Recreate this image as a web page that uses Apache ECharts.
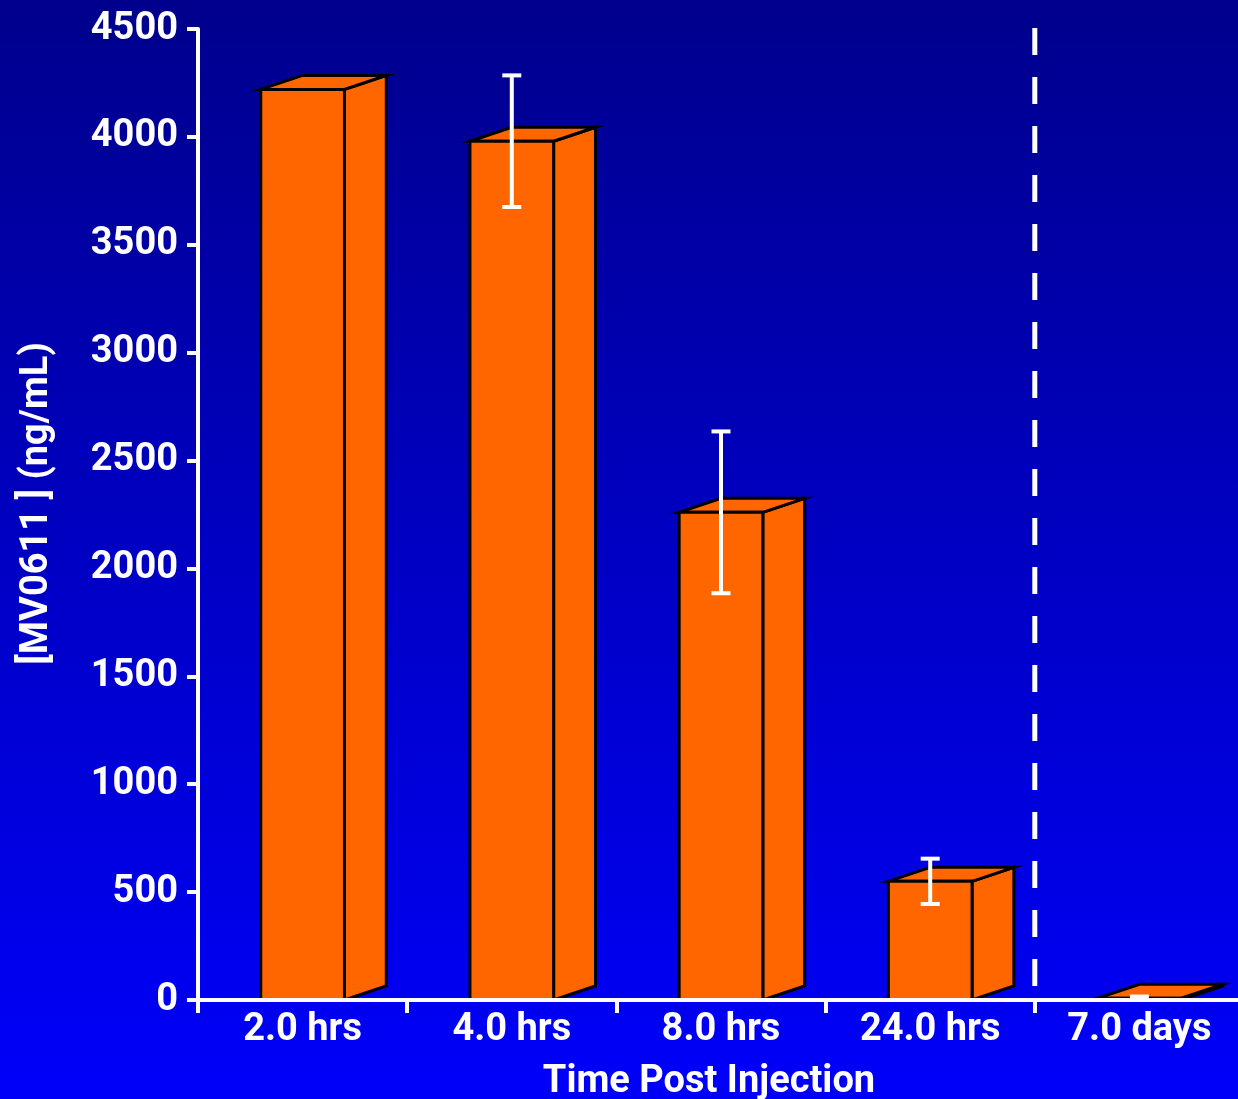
<!DOCTYPE html>
<html>
<head>
<meta charset="utf-8">
<title>MV0611 concentration over time</title>
<script src="https://cdn.jsdelivr.net/npm/echarts@6/dist/echarts.min.js"></script>
<style>
  html, body { margin: 0; padding: 0; background: #0000c0; overflow: hidden; }
  #chart { width: 1238px; height: 1099px; }
</style>
</head>
<body>
<div id="chart"></div>
<script>
// Sampling times after injection
const categories = ['2.0 hrs', '4.0 hrs', '8.0 hrs', '24.0 hrs', '7.0 days'];
// Mean plasma concentration (ng/mL)
const meanConc = [4220, 3980, 2260, 550, 8];
// Error bar half-width (ng/mL); null = no error bar
const errConc = [null, 305, 375, 105, 8];
// Y axis ticks
const yMin = 0, yMax = 4500, yStep = 500;
// Dashed separator is drawn before this category
const dividerBefore = '7.0 days';

const FONT = 'Roboto';
const ORANGE = '#ff6600';

const chart = echarts.init(document.getElementById('chart'), null, { renderer: 'canvas' });

// 3D box: front face, right side face and top face
function renderBox(params, api) {
  const idx = api.value(0);
  const val = api.value(1);
  const base = api.coord([idx, 0]);
  const top = api.coord([idx, val]);
  const band = api.size([1, 0])[0];
  const w = band * 0.40;
  const dx = band * 0.20;
  const dy = 14;
  const x0 = base[0] - w / 2, x1 = base[0] + w / 2;
  const yb = base[1], yt = top[1];
  const style = { fill: ORANGE, stroke: '#000', lineWidth: 3, lineJoin: 'miter' };
  return {
    type: 'group',
    children: [
      { type: 'polygon', shape: { points: [[x1, yb], [x1, yt], [x1 + dx, yt - dy], [x1 + dx, yb - dy]] }, style: style },
      { type: 'polygon', shape: { points: [[x0, yt], [x0 + dx, yt - dy], [x1 + dx, yt - dy], [x1, yt]] }, style: style },
      { type: 'polygon', shape: { points: [[x0, yb], [x0, yt], [x1, yt], [x1, yb]] }, style: style }
    ]
  };
}

// Error bar with caps, centred on the front face
function renderError(params, api) {
  const idx = api.value(0);
  const lo = api.coord([idx, api.value(1)]);
  const hi = api.coord([idx, api.value(2)]);
  const cap = 19;
  const st = { stroke: '#ffffff', lineWidth: 4 };
  return {
    type: 'group',
    children: [
      { type: 'line', shape: { x1: lo[0], y1: lo[1], x2: hi[0], y2: hi[1] }, style: st },
      { type: 'line', shape: { x1: hi[0] - cap / 2, y1: hi[1], x2: hi[0] + cap / 2, y2: hi[1] }, style: st },
      { type: 'line', shape: { x1: lo[0] - cap / 2, y1: lo[1], x2: lo[0] + cap / 2, y2: lo[1] }, style: st }
    ]
  };
}

// Vertical dashed separator on the left edge of a category
function renderDivider(params, api) {
  const idx = api.value(0);
  const c = api.coord([idx, yMax]);
  const b = api.coord([idx, yMin]);
  const band = api.size([1, 0])[0];
  const x = c[0] - band / 2;
  return {
    type: 'line',
    shape: { x1: x, y1: c[1] - 1, x2: x, y2: b[1] },
    style: { stroke: '#ffffff', lineWidth: 5, lineDash: [27, 22] }
  };
}

const boxData = categories.map((c, i) => [i, meanConc[i]]);
const errData = [];
categories.forEach((c, i) => {
  if (errConc[i] != null) errData.push([i, meanConc[i] - errConc[i], meanConc[i] + errConc[i]]);
});
const dividerData = [[categories.indexOf(dividerBefore)]];

const option = {
  animation: false,
  backgroundColor: {
    type: 'linear', x: 0, y: 0, x2: 0, y2: 1,
    colorStops: [
      { offset: 0, color: '#00008c' },
      { offset: 1, color: '#0000fa' }
    ]
  },
  grid: { left: 198, right: -6, top: 29, bottom: 99, containLabel: false, outerBoundsMode: 'none' },
  xAxis: {
    type: 'category',
    data: categories,
    boundaryGap: true,
    z: 5,
    name: 'Time Post Injection',
    nameLocation: 'middle',
    nameGap: 63,
    nameTextStyle: { color: '#ffffff', fontFamily: FONT, fontWeight: 'bold', fontSize: 38, padding: [0, 24, 0, 0] },
    axisLine: { lineStyle: { color: '#ffffff', width: 4 } },
    axisTick: { show: true, length: 13, lineStyle: { color: '#ffffff', width: 4 } },
    axisLabel: { color: '#ffffff', fontFamily: FONT, fontWeight: 'bold', fontSize: 38, margin: 11 },
    splitLine: { show: false }
  },
  yAxis: {
    type: 'value',
    min: yMin, max: yMax, interval: yStep,
    z: 5,
    name: '[MV0611 ] (ng/mL)',
    nameLocation: 'middle',
    nameGap: 142,
    nameRotate: 90,
    nameTextStyle: { color: '#ffffff', fontFamily: FONT, fontWeight: 'bold', fontSize: 38, padding: [0, 0, 0, 22] },
    axisLine: { show: true, lineStyle: { color: '#ffffff', width: 4 } },
    axisTick: { show: true, length: 11, lineStyle: { color: '#ffffff', width: 4 } },
    axisLabel: { color: '#ffffff', fontFamily: FONT, fontWeight: 'bold', fontSize: 38, margin: 20, formatter: v => String(v) },
    splitLine: { show: false }
  },
  series: [
    { type: 'custom', name: 'divider', renderItem: renderDivider, data: dividerData, z: 1, silent: true },
    { type: 'custom', name: 'MV0611', renderItem: renderBox, data: boxData, z: 2 },
    { type: 'custom', name: 'SD', renderItem: renderError, data: errData, z: 3 }
  ]
};

chart.setOption(option);
</script>
</body>
</html>
